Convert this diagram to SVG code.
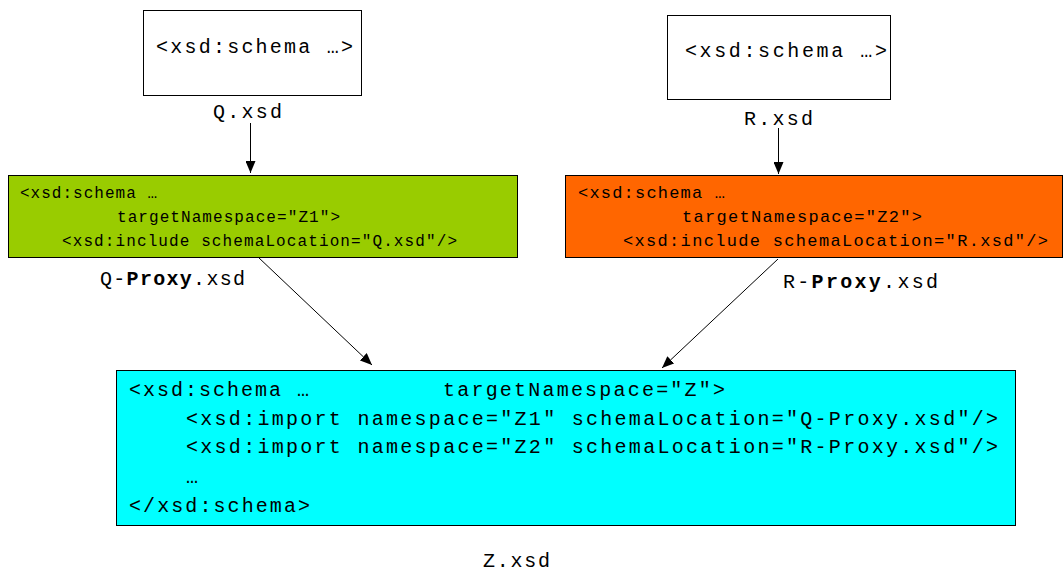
<svg xmlns="http://www.w3.org/2000/svg" width="1063" height="571" viewBox="0 0 1063 571">
<style>
  .box { stroke: #000; stroke-width: 1; }
  .mono { font-family: "Liberation Mono", "Courier New", monospace; fill: #000; }
  .big { font-size: 20px; letter-spacing: 2px; }
  .small { font-size: 16px; }
  .mid { font-size: 17px; }
  .conn { stroke: #000; stroke-width: 1; fill: none; marker-end: url(#arr); }
</style>
<defs>
  <marker id="arr" markerWidth="12" markerHeight="10" refX="12" refY="5" orient="auto" markerUnits="userSpaceOnUse">
    <path d="M0,0 L12,5 L0,10 Z" fill="#000"/>
  </marker>
</defs>
<rect width="1063" height="571" fill="#fff"/>

<g id="node-q">
  <rect class="box" x="143.5" y="10.5" width="218" height="85" fill="#fff"/>
  <text class="mono big" x="156" y="53" textLength="199" lengthAdjust="spacing">&lt;xsd:schema …&gt;</text>
  <text class="mono big" x="213" y="118" textLength="71" lengthAdjust="spacing">Q.xsd</text>
</g>

<g id="node-r">
  <rect class="box" x="667.5" y="15.5" width="223" height="84" fill="#fff"/>
  <text class="mono big" x="685" y="57" textLength="204" lengthAdjust="spacing">&lt;xsd:schema …&gt;</text>
  <text class="mono big" x="744" y="125" textLength="71" lengthAdjust="spacing">R.xsd</text>
</g>

<g id="node-qproxy">
  <rect class="box" x="8.5" y="175.5" width="509" height="82" fill="#99CC00"/>
  <text class="mono small" x="20" y="198" textLength="137" lengthAdjust="spacing">&lt;xsd:schema …</text>
  <text class="mono small" x="117" y="222" textLength="223" lengthAdjust="spacing">targetNamespace="Z1"&gt;</text>
  <text class="mono small" x="62" y="246" textLength="395" lengthAdjust="spacing">&lt;xsd:include schemaLocation="Q.xsd"/&gt;</text>
  <text class="mono big" x="100" y="285" textLength="147" lengthAdjust="spacing">Q-<tspan font-weight="bold">Proxy</tspan>.xsd</text>
</g>

<g id="node-rproxy">
  <rect class="box" x="565.5" y="175.5" width="497" height="82" fill="#FF6600"/>
  <text class="mono mid" x="578" y="198" textLength="147" lengthAdjust="spacing">&lt;xsd:schema …</text>
  <text class="mono mid" x="682" y="222" textLength="240" lengthAdjust="spacing">targetNamespace="Z2"&gt;</text>
  <text class="mono mid" x="623" y="246" textLength="425" lengthAdjust="spacing">&lt;xsd:include schemaLocation="R.xsd"/&gt;</text>
  <text class="mono big" x="783" y="288" textLength="157" lengthAdjust="spacing">R-<tspan font-weight="bold">Proxy</tspan>.xsd</text>
</g>

<g id="node-z">
  <rect class="box" x="116.5" y="370.5" width="899" height="155" fill="#00FFFF"/>
  <text class="mono big" x="129" y="396" textLength="182" lengthAdjust="spacing">&lt;xsd:schema …</text>
  <text class="mono big" x="443" y="396" textLength="284" lengthAdjust="spacing">targetNamespace="Z"&gt;</text>
  <text class="mono big" x="186" y="425" textLength="814" lengthAdjust="spacing">&lt;xsd:import namespace="Z1" schemaLocation="Q-Proxy.xsd"/&gt;</text>
  <text class="mono big" x="186" y="453" textLength="814" lengthAdjust="spacing">&lt;xsd:import namespace="Z2" schemaLocation="R-Proxy.xsd"/&gt;</text>
  <text class="mono big" x="186" y="483">…</text>
  <text class="mono big" x="129" y="512" textLength="183" lengthAdjust="spacing">&lt;/xsd:schema&gt;</text>
  <text class="mono big" x="483" y="567" textLength="69" lengthAdjust="spacing">Z.xsd</text>
</g>

<g id="connectors">
  <line class="conn" x1="250.5" y1="123" x2="250.5" y2="173"/>
  <line class="conn" x1="778.5" y1="128" x2="778.5" y2="174"/>
  <line class="conn" x1="258" y1="257" x2="372" y2="365"/>
  <line class="conn" x1="778" y1="259" x2="662" y2="368"/>
</g>
</svg>
